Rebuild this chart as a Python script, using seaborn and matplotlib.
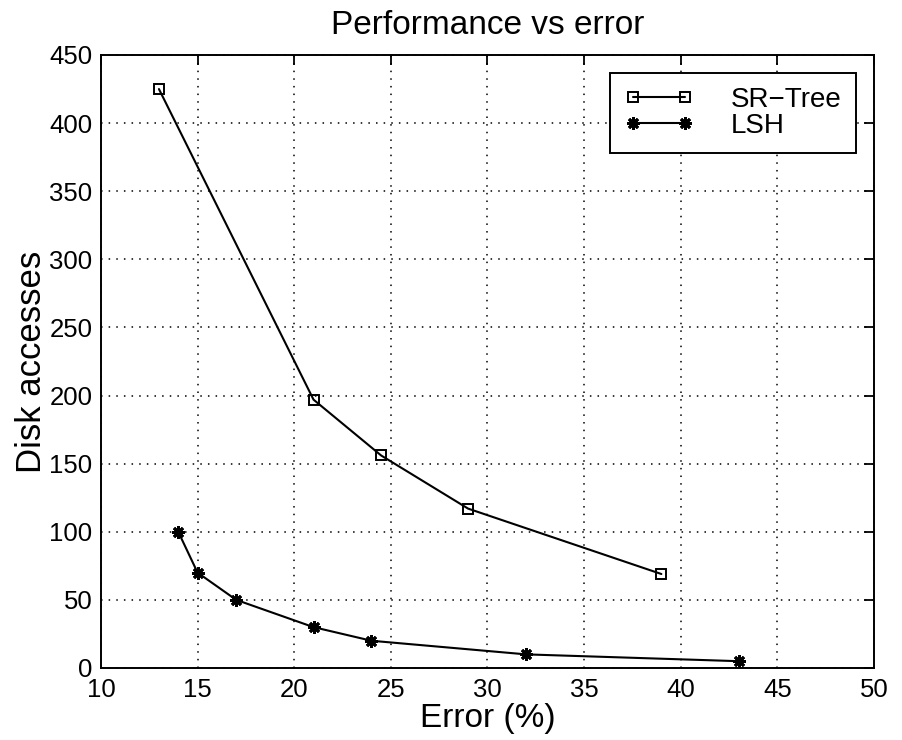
import matplotlib
matplotlib.use("Agg")
import matplotlib.pyplot as plt
import seaborn as sns
import pandas as pd

# Disk accesses against error (%) for the two index structures
sr_error = [13, 21, 24.5, 29, 39]
sr_disk = [425, 197, 156, 117, 69]
lsh_error = [14, 15, 17, 21, 24, 32, 43]
lsh_disk = [100, 70, 50, 30, 20, 10, 5]

x_ticks = [10, 15, 20, 25, 30, 35, 40, 45, 50]
y_ticks = [0, 50, 100, 150, 200, 250, 300, 350, 400, 450]

sns.set_style("white")
plt.rcParams["font.family"] = ["Liberation Sans", "DejaVu Sans"]
plt.rcParams["text.color"] = "black"
plt.rcParams["axes.labelcolor"] = "black"

fig = plt.figure(figsize=(9.03, 7.40), dpi=100)
ax = fig.add_axes([0.1118, 0.0973, 0.8560, 0.8284])

sr = pd.DataFrame({"err": sr_error, "disk": sr_disk})
lsh = pd.DataFrame({"err": lsh_error, "disk": lsh_disk})

sns.lineplot(data=sr, x="err", y="disk", ax=ax, color="black", linewidth=1.5,
             marker="s", markersize=6.5, markerfacecolor="none",
             markeredgecolor="black", markeredgewidth=1.4, label="SR\u2212Tree")
sns.lineplot(data=lsh, x="err", y="disk", ax=ax, color="black", linewidth=1.5,
             marker=(8, 2, 0), markersize=9, markeredgecolor="black",
             markeredgewidth=2.0, label="LSH")

ax.set_xlim(10, 50)
ax.set_ylim(0, 450)
ax.set_xticks(x_ticks)
ax.set_yticks(y_ticks)
ax.tick_params(direction="in", length=7, width=1.3, labelsize=18.5,
               top=True, right=True, labeltop=False, labelright=False,
               colors="black")
ax.tick_params(axis="y", pad=6)
ax.tick_params(axis="x", pad=7)
for s in ax.spines.values():
    s.set_visible(True)
    s.set_color("black")
    s.set_linewidth(1.4)

ax.grid(True, color="black", linestyle=(0, (1, 4)), linewidth=1.1)
ax.set_axisbelow(True)

ax.set_xlabel("Error (%)", fontsize=24, labelpad=1, color="black")
ax.set_ylabel("Disk accesses", fontsize=25, labelpad=1, color="black")
ax.set_title("Performance vs error", fontsize=24, pad=15, color="black")

leg = ax.legend(loc="upper right", numpoints=2, fontsize=20, frameon=True,
                fancybox=False, edgecolor="black", handlelength=2.5,
                handletextpad=1.35, borderpad=0.5, labelspacing=0.0,
                borderaxespad=0.65, framealpha=1)
leg.get_frame().set_linewidth(1.4)

fig.savefig("out.png", dpi=100, facecolor="white")
